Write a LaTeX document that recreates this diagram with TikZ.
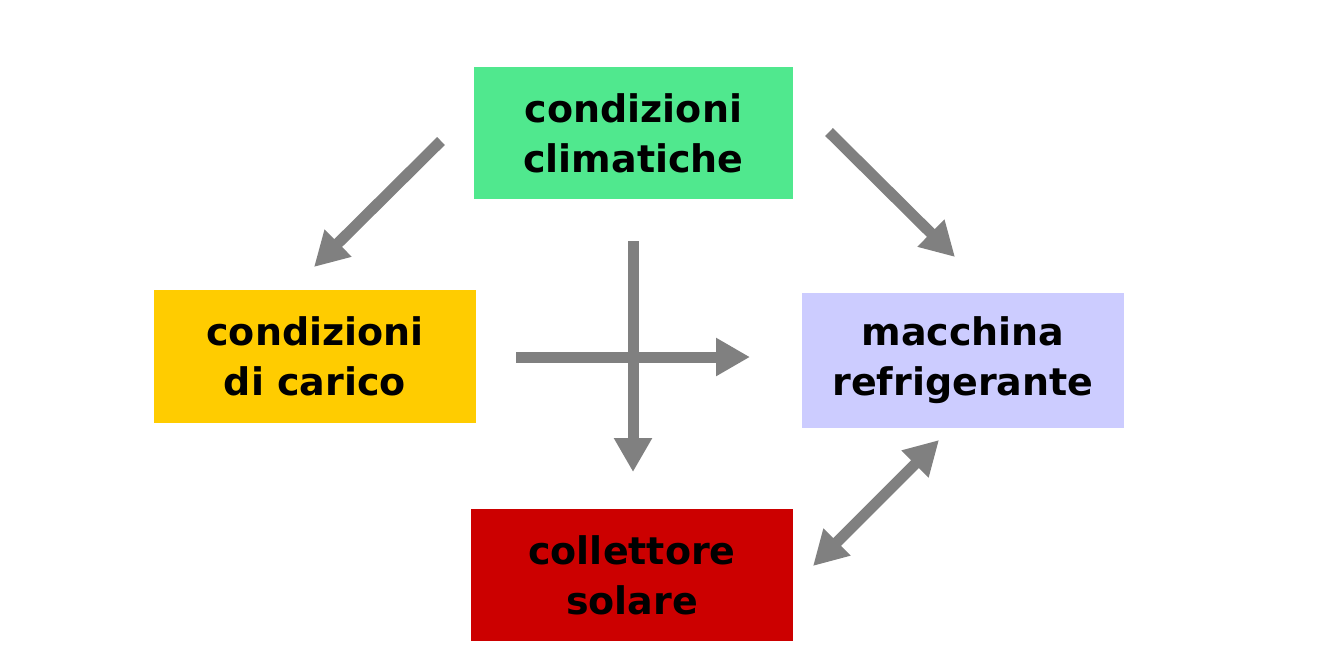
\documentclass[tikz,border=0pt]{standalone}
\usepackage{fontspec}
\setmainfont{DejaVu Sans}
\usetikzlibrary{arrows.meta}
\definecolor{cgreen}{HTML}{50E88E}
\definecolor{cyellow}{HTML}{FFCC00}
\definecolor{clav}{HTML}{CCCCFF}
\definecolor{cred}{HTML}{CC0000}
\definecolor{cgray}{HTML}{808080}
\tikzset{
  box/.style={rectangle, inner sep=0pt, align=center, text=black,
    font=\bfseries\fontsize{19}{25}\selectfont},
  conn/.style={draw=cgray, line width=5.5pt,
    -{Triangle[length=17pt,width=18pt]}},
  bconn/.style={draw=cgray, line width=5.5pt,
    {Triangle[length=17pt,width=18pt]}-{Triangle[length=17pt,width=18pt]}}
}
\begin{document}
\begin{tikzpicture}[x=0.5pt,y=-0.5pt]
\path[fill=white] (0,0) rectangle (1332,661);
\useasboundingbox (0,0) rectangle (1332,661);
\node[box, fill=cgreen, minimum width=159.5pt, minimum height=66pt] (clim) at (633.5,133) {condizioni\\climatiche};
\node[box, fill=cyellow, minimum width=161pt, minimum height=66.5pt] (car) at (315,356.5) {condizioni\\di carico};
\node[box, fill=clav, minimum width=161pt, minimum height=67.5pt] (mac) at (963,360.5) {macchina\\refrigerante};
\node[box, fill=cred, minimum width=161pt, minimum height=66pt] (col) at (632,575) {collettore\\solare};
\coordinate (a1s) at (441,141);
\coordinate (a1e) at (314,267);
\coordinate (a2s) at (829,132);
\coordinate (a2e) at (955,257);
\coordinate (a3s) at (633,241);
\coordinate (a3e) at (633,472);
\coordinate (a4s) at (516,357);
\coordinate (a4e) at (750,357);
\coordinate (a5s) at (939,440);
\coordinate (a5e) at (813,566);
\draw[conn] (a1s) -- (a1e);
\draw[conn] (a2s) -- (a2e);
\draw[conn] (a3s) -- (a3e);
\draw[conn] (a4s) -- (a4e);
\draw[bconn] (a5s) -- (a5e);
\end{tikzpicture}
\end{document}
